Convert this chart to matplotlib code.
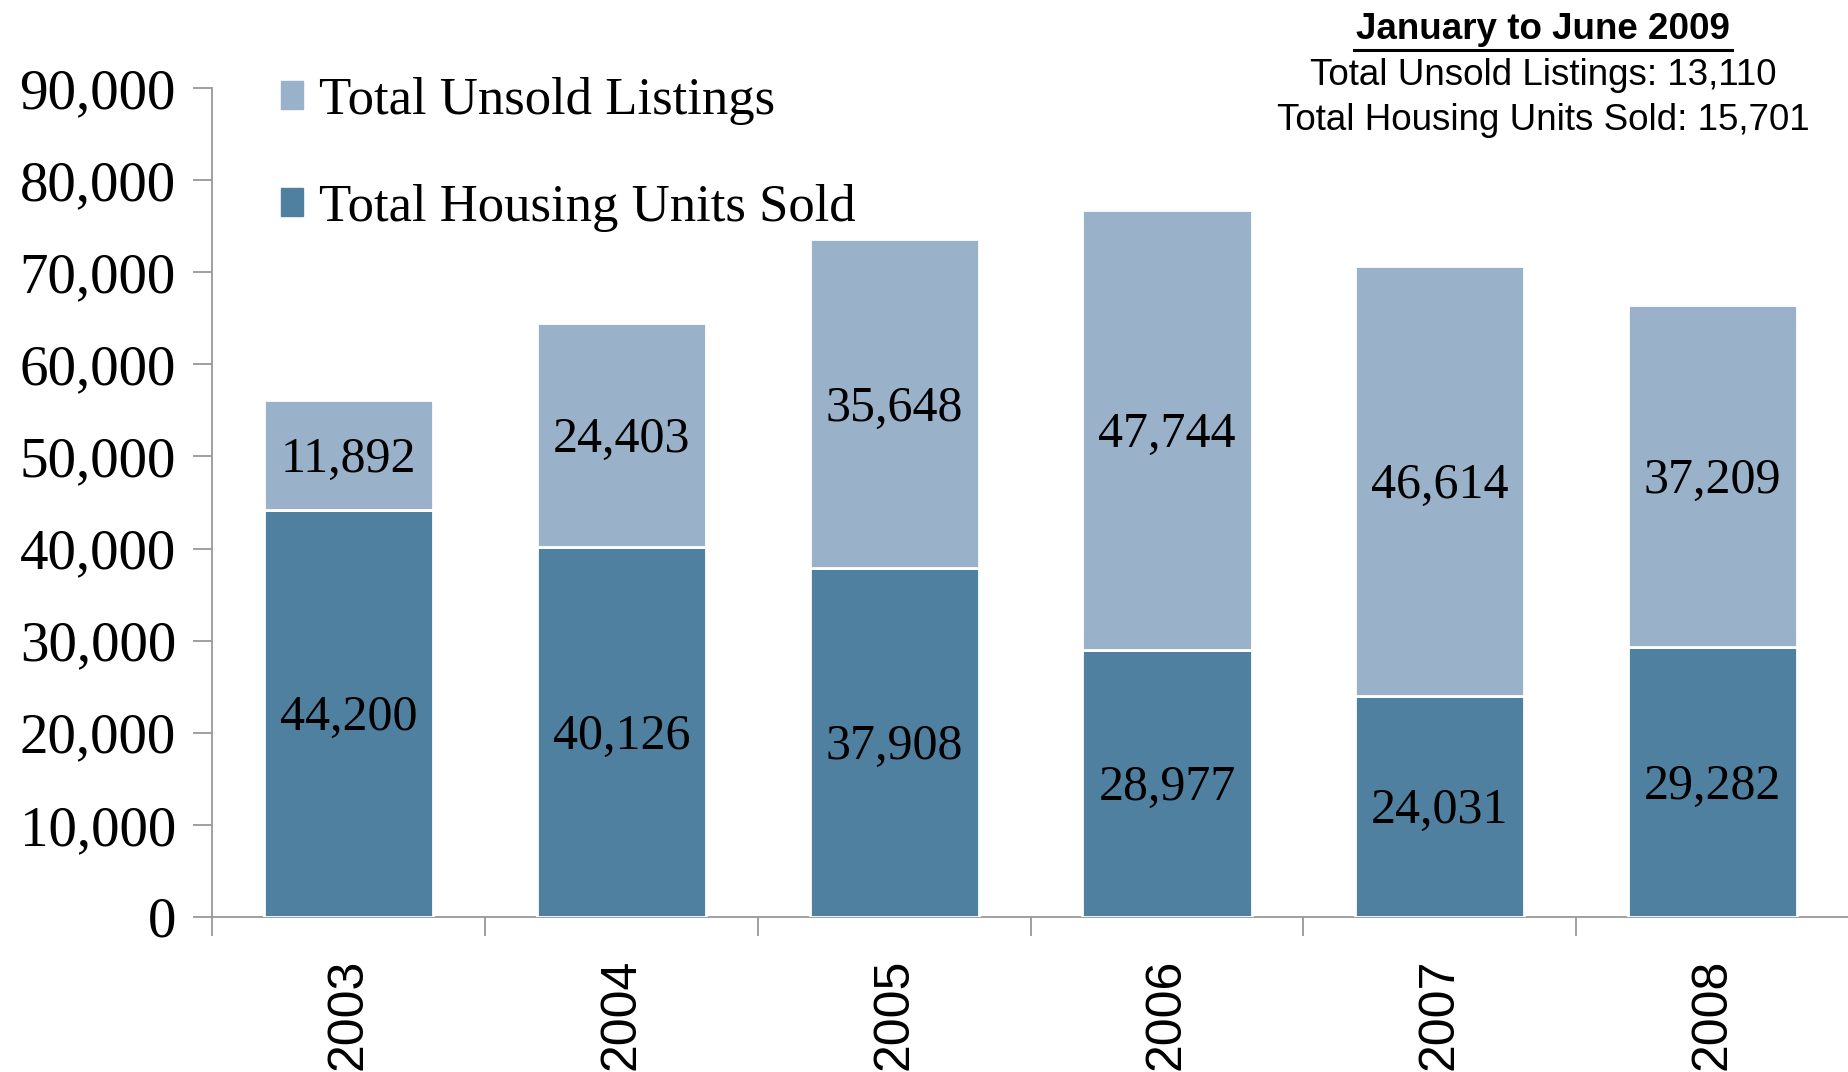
import matplotlib
matplotlib.use("Agg")
import matplotlib.pyplot as plt
from matplotlib.patches import Patch
from matplotlib.ticker import FuncFormatter, MultipleLocator

years = ["2003", "2004", "2005", "2006", "2007", "2008"]
sold = [44200, 40126, 37908, 28977, 24031, 29282]
unsold = [11892, 24403, 35648, 47744, 46614, 37209]
series_names = ["Total Unsold Listings", "Total Housing Units Sold"]
note_title = "January to June 2009"
note_lines = ["Total Unsold Listings: 13,110", "Total Housing Units Sold: 15,701"]

c_sold = "#5080A0"
c_unsold = "#99B2C9"
serif = ["Liberation Serif", "DejaVu Serif"]
sans = ["Liberation Sans", "DejaVu Sans"]

fig = plt.figure(figsize=(18.49, 10.72), dpi=100)
ax = fig.add_axes([0.1147, 0.1446, 0.8853, 0.7733])

x = list(range(len(years)))
w = 0.62
ax.bar(x, sold, width=w, color=c_sold, edgecolor="white", linewidth=2, zorder=3)
ax.bar(x, unsold, width=w, bottom=sold, color=c_unsold, edgecolor="white", linewidth=2, zorder=3)

for i in x:
    ax.text(i, sold[i] / 2 - 500, f"{sold[i]:,}", ha="center", va="center",
            fontsize=36, family=serif, zorder=4)
    ax.text(i, sold[i] + unsold[i] / 2 - 500, f"{unsold[i]:,}", ha="center", va="center",
            fontsize=36, family=serif, zorder=4)

ax.set_xlim(-0.5, len(years) - 0.5)
ax.set_ylim(0, 90000)
ax.yaxis.set_major_locator(MultipleLocator(10000))
ax.yaxis.set_major_formatter(FuncFormatter(lambda v, p: f"{int(v):,}"))
ax.tick_params(axis="y", labelsize=41, length=14, width=1.3, color="#999999", pad=12)
for t in ax.get_yticklabels():
    t.set_fontfamily(serif)

ax.set_xticks([i - 0.5 for i in range(len(years) + 1)], minor=False)
ax.set_xticklabels([])
ax.set_xticks(x, minor=True)
ax.set_xticklabels(years, minor=True, rotation=90, fontsize=36, family=sans)
ax.tick_params(axis="x", which="major", length=14, width=1.3, color="#999999", direction="out")
ax.tick_params(axis="x", which="minor", length=0, pad=30)

for s in ["top", "right"]:
    ax.spines[s].set_visible(False)
for s in ["left", "bottom"]:
    ax.spines[s].set_color("#999999")
    ax.spines[s].set_linewidth(1.3)

handles = [Patch(color=c_unsold), Patch(color=c_sold)]
ax.legend(handles, series_names, loc="upper left", bbox_to_anchor=(0.042, 1.0136),
          frameon=False, prop={"family": serif, "size": 38}, borderpad=0, borderaxespad=0,
          handlelength=0.42, handleheight=0.42, handletextpad=0.3, labelspacing=1.12)

cx = 0.8345
fig.text(cx, 0.9725, note_title, ha="center", va="center", fontsize=26.5,
         fontweight="bold", family=sans)
fig.add_artist(plt.Line2D([0.7325, 0.9365], [0.9535, 0.9535], color="black", lw=2.2))
fig.text(cx, 0.930, note_lines[0], ha="center", va="center", fontsize=26.5, family=sans)
fig.text(cx, 0.888, note_lines[1], ha="center", va="center", fontsize=26.5, family=sans)

fig.savefig("out.png", dpi=100)
